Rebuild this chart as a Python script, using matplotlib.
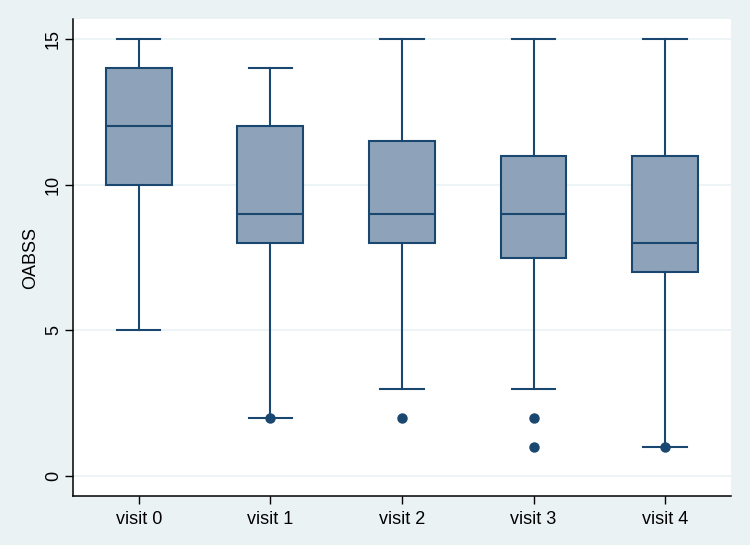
import matplotlib
matplotlib.use("Agg")
import matplotlib.pyplot as plt

categories = ["visit 0", "visit 1", "visit 2", "visit 3", "visit 4"]
q1 = [10, 8, 8, 7.5, 7]
med = [12, 9, 9, 9, 8]
q3 = [14, 12, 11.5, 11, 11]
whislo = [5, 2, 3, 3, 1]
whishi = [15, 14, 15, 15, 15]
fliers = [[], [2], [2], [2, 1], [1]]
yticks = [0, 5, 10, 15]

plt.rcParams['font.family'] = ['Liberation Sans', 'DejaVu Sans']
bg = "#EAF2F3"
navy = "#1A476F"
fill = "#8EA3B9"

fig = plt.figure(figsize=(7.5, 5.45), dpi=100, facecolor=bg)
ax = fig.add_axes([0.0973, 0.0899, 0.8773, 0.8752])
ax.set_facecolor("white")

stats = []
for i, c in enumerate(categories):
    stats.append(dict(label=c, q1=q1[i], med=med[i], q3=q3[i],
                      whislo=whislo[i], whishi=whishi[i], fliers=fliers[i]))

ax.bxp(stats, positions=range(len(categories)), widths=0.5, patch_artist=True,
       boxprops=dict(facecolor=fill, edgecolor=navy, linewidth=1.5),
       medianprops=dict(color=navy, linewidth=1.5),
       whiskerprops=dict(color=navy, linewidth=1.5),
       capprops=dict(color=navy, linewidth=1.5),
       capwidths=0.33,
       flierprops=dict(marker='o', markerfacecolor=navy, markeredgecolor=navy, markersize=6.5))

ax.set_xlim(-0.5, 4.5)
ax.set_ylim(-0.69, 15.69)
ax.set_yticks(yticks)
ax.set_yticklabels([str(t) for t in yticks], rotation=90, va='center')
ax.grid(axis='y', color=bg, linewidth=1.2)
ax.set_axisbelow(True)
for s in ['top', 'right']:
    ax.spines[s].set_visible(False)
for s in ['left', 'bottom']:
    ax.spines[s].set_linewidth(1.1)
    ax.spines[s].set_color("black")
ax.tick_params(axis='both', direction='out', length=6, width=1, labelsize=13, colors='black')
ax.tick_params(axis='x', pad=5)
ax.tick_params(axis='y', pad=2)
ax.set_ylabel("OABSS", fontsize=13, labelpad=4)

fig.savefig("out.png", dpi=100, facecolor=bg)
